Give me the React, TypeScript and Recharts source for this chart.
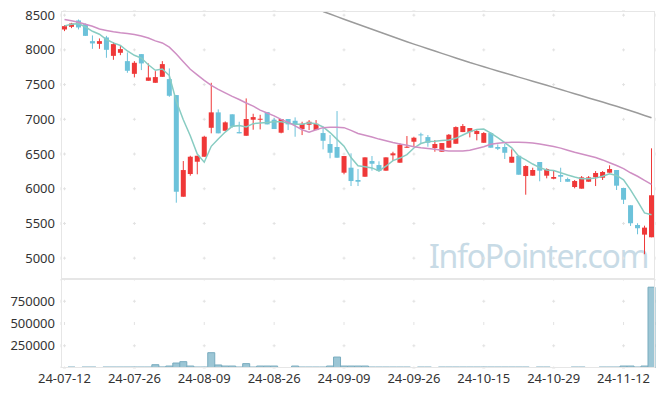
import React from 'react';
import { ComposedChart, Bar, Line, XAxis, YAxis, CartesianGrid } from 'recharts';

const dates = [
  '24-07-12', '24-07-15', '24-07-16', '24-07-17', '24-07-18', '24-07-19',
  '24-07-22', '24-07-23', '24-07-24', '24-07-25', '24-07-26',
  '24-07-29', '24-07-30', '24-07-31', '24-08-01', '24-08-02',
  '24-08-05', '24-08-06', '24-08-07', '24-08-08', '24-08-09',
  '24-08-12', '24-08-13', '24-08-14', '24-08-16',
  '24-08-19', '24-08-20', '24-08-21', '24-08-22', '24-08-23',
  '24-08-26', '24-08-27', '24-08-28', '24-08-29', '24-08-30',
  '24-09-02', '24-09-03', '24-09-04', '24-09-05', '24-09-06',
  '24-09-09', '24-09-10', '24-09-11', '24-09-12', '24-09-13',
  '24-09-19', '24-09-20',
  '24-09-23', '24-09-24', '24-09-25', '24-09-26', '24-09-27',
  '24-09-30', '24-10-02', '24-10-04',
  '24-10-07', '24-10-08', '24-10-10', '24-10-11',
  '24-10-14', '24-10-15', '24-10-16', '24-10-17', '24-10-18',
  '24-10-21', '24-10-22', '24-10-23', '24-10-24', '24-10-25',
  '24-10-28', '24-10-29', '24-10-30', '24-10-31', '24-11-01',
  '24-11-04', '24-11-05', '24-11-06', '24-11-07', '24-11-08',
  '24-11-11', '24-11-12', '24-11-13', '24-11-14', '24-11-15',
  '24-11-18',
];

const tickDates = ['24-07-12', '24-07-26', '24-08-09', '24-08-26', '24-09-09', '24-09-26', '24-10-15', '24-10-29', '24-11-12'];
const priceTicks = [5000, 5500, 6000, 6500, 7000, 7500, 8000, 8500];
const volumeTicks = [250000, 500000, 750000];

const opens = [
  8294, 8332, 8424, 8370, 8126, 8087, 8179, 7914, 7958, 7838,
  7655, 7939, 7555, 7526, 7612, 7579, 7349, 5885, 6212, 6389,
  6461, 6878, 7100, 6835, 7072, 6816, 6763, 6994, 6994, 7104,
  6994, 6807, 7004, 6979, 6860, 6922, 6845, 6802, 6644, 6601,
  6231, 6303, 6126, 6173, 6399, 6341, 6260, 6481, 6375, 6591,
  6677, 6783, 6744, 6586, 6533, 6591, 6648, 6816, 6816, 6788,
  6662, 6802, 6601, 6601, 6375, 6475, 6183, 6188, 6385, 6188,
  6144, 6198, 6140, 6025, 6001, 6101, 6164, 6159, 6231, 6270,
  6011, 5762, 5478, 5339, 5301,
];
const highs = [
  8356, 8389, 8438, 8380, 8208, 8165, 8202, 8110, 8068, 7963,
  7838, 7939, 7805, 7694, 7838, 7733, 7349, 6399, 6475, 6475,
  6763, 7526, 7143, 6970, 7072, 6965, 7301, 7080, 7065, 7104,
  7022, 7004, 7004, 7028, 6965, 6989, 6989, 6893, 6773, 7119,
  6471, 6510, 6284, 6452, 6471, 6395, 6452, 6533, 6654, 6759,
  6749, 6807, 6773, 6701, 6658, 6788, 6898, 6932, 6874, 6845,
  6816, 6816, 6639, 6644, 6567, 6475, 6337, 6303, 6385, 6294,
  6270, 6303, 6160, 6126, 6183, 6183, 6255, 6255, 6337, 6270,
  6011, 5762, 5503, 5468, 6582,
];
const lows = [
  8270, 8313, 8294, 8202, 8015, 8015, 7886, 7857, 7924, 7670,
  7604, 7709, 7555, 7526, 7612, 7324, 5799, 5885, 6188, 6208,
  6461, 6798, 6798, 6835, 6878, 6798, 6763, 6850, 6855, 6927,
  6860, 6798, 6845, 6749, 6773, 6845, 6845, 6567, 6438, 6447,
  6208, 6039, 6039, 6173, 6260, 6245, 6260, 6399, 6375, 6591,
  6605, 6648, 6605, 6533, 6533, 6591, 6648, 6816, 6740, 6697,
  6662, 6591, 6557, 6428, 6375, 6202, 5914, 6188, 6107, 6150,
  6136, 6097, 6101, 6006, 6001, 6101, 6039, 6126, 6231, 5982,
  5780, 5464, 5344, 5057, 5301,
];
const closes = [
  8342, 8380, 8323, 8202, 8093, 8126, 8001, 8083, 8011, 7699,
  7814, 7805, 7603, 7608, 7795, 7339, 5957, 6269, 6461, 6475,
  6749, 7100, 6798, 6956, 6893, 6798, 7004, 7032, 7008, 6927,
  6860, 7004, 6927, 6922, 6936, 6965, 6936, 6691, 6518, 6447,
  6471, 6111, 6101, 6452, 6360, 6255, 6452, 6510, 6634, 6605,
  6735, 6769, 6662, 6644, 6658, 6778, 6888, 6903, 6874, 6831,
  6802, 6591, 6576, 6518, 6461, 6202, 6327, 6270, 6260, 6284,
  6169, 6173, 6101, 6111, 6164, 6164, 6227, 6241, 6284, 6044,
  5842, 5503, 5431, 5440, 5906,
];
const volumes = [
  0, 11000, 0, 11000, 11000, 0, 11000, 11000, 11000, 11000,
  11000, 11000, 11000, 37000, 12000, 22000, 56000, 71000, 22000, 11000,
  11000, 172000, 34000, 22000, 22000, 11000, 49000, 11000, 22000, 22000,
  22000, 0, 0, 22000, 11000, 11000, 11000, 11000, 22000, 123000,
  22000, 22000, 22000, 22000, 11000, 11000, 11000, 11000, 11000, 11000,
  0, 11000, 11000, 0, 11000, 11000, 11000, 11000, 11000, 11000,
  11000, 11000, 11000, 11000, 11000, 11000, 11000, 0, 11000, 11000,
  0, 0, 0, 11000, 11000, 0, 0, 11000, 11000, 11000,
  22000, 22000, 11000, 22000, 908000,
];
const ma5 = [
  8346, 8370, 8378, 8330, 8268, 8225, 8149, 8101, 8063, 7984,
  7922, 7882, 7786, 7706, 7725, 7630, 7260, 6994, 6764, 6500,
  6382, 6611, 6717, 6816, 6899, 6909, 6890, 6937, 6947, 6954,
  6966, 6966, 6945, 6928, 6930, 6951, 6937, 6890, 6809, 6711,
  6613, 6449, 6331, 6317, 6300, 6257, 6324, 6406, 6442, 6491,
  6587, 6651, 6681, 6683, 6694, 6702, 6726, 6774, 6820, 6855,
  6860, 6800, 6735, 6664, 6590, 6470, 6417, 6356, 6304, 6269,
  6262, 6231, 6197, 6168, 6144, 6143, 6153, 6181, 6216, 6192,
  6128, 5983, 5821, 5652, 5624,
];
const ma20 = [
  8438, 8420, 8399, 8370, 8340, 8300, 8280, 8262, 8248, 8237,
  8222, 8200, 8170, 8130, 8100, 8040, 7940, 7830, 7720, 7640,
  7560, 7490, 7430, 7380, 7330, 7285, 7235, 7190, 7133, 7090,
  7050, 7000, 6955, 6905, 6850, 6815, 6850, 6880, 6884, 6884,
  6880, 6840, 6795, 6770, 6745, 6715, 6690, 6665, 6645, 6625,
  6605, 6590, 6580, 6568, 6556, 6545, 6543, 6545, 6555, 6580,
  6605, 6640, 6656, 6665, 6668, 6668, 6665, 6658, 6645, 6625,
  6607, 6585, 6555, 6525, 6500, 6475, 6450, 6415, 6375, 6335,
  6290, 6230, 6180, 6120, 6064,
];
const ma120 = [
  null, null, null, null, null, null, null, null, null, null,
  null, null, null, null, null, null, null, null, null, null,
  null, null, null, null, null, null, null, null, null, null,
  null, null, null, null, null, null, null, 8553, 8516, 8479,
  8442, 8406, 8370, 8334, 8298, 8262, 8226, 8190, 8154, 8118,
  8083, 8050, 8016, 7983, 7950, 7917, 7884, 7851, 7818, 7788,
  7756, 7726, 7697, 7667, 7638, 7608, 7579, 7549, 7519, 7490,
  7460, 7430, 7399, 7369, 7339, 7308, 7278, 7248, 7218, 7188,
  7157, 7124, 7090, 7056, 7022,
];

const rows = dates.map((date, i) => ({
  date,
  open: opens[i],
  high: highs[i],
  low: lows[i],
  close: closes[i],
  range: [lows[i], highs[i]],
  volume: volumes[i],
  ma5: ma5[i],
  ma20: ma20[i],
  ma120: ma120[i],
}));

const W = 665;
const LEFT = 61;
const RIGHT_M = 10;
const PLOT_W = W - LEFT - RIGHT_M;
const PRICE_TOP = 11;
const PRICE_CHART_H = 279;
const PRICE_PLOT_H = PRICE_CHART_H - PRICE_TOP;
const VOL_CHART_H = 118;
const VOL_AXIS_H = 29;
const VOL_PLOT_H = VOL_CHART_H - VOL_AXIS_H;
const PRICE_DOMAIN: [number, number] = [4700, 8560];
const VOL_DOMAIN: [number, number] = [0, 1000000];

const RED = '#ef3838';
const BLUE = '#6cc2da';
const GRID = '#e2e2e2';
const BORDER = '#e6e6e6';
const FONT = "'Noto Sans', 'DejaVu Sans', sans-serif";

const bandW = PLOT_W / dates.length;
const xPeriod = bandW * 10;
const ARM = 3;

const hLine = (p: any) => (
  <line
    key={p.key}
    x1={p.x1}
    y1={p.y1}
    x2={p.x2}
    y2={p.y2}
    stroke={GRID}
    strokeWidth={1}
    strokeDasharray={`${ARM} ${xPeriod - ARM}`}
    strokeDashoffset={-(bandW / 2 - ARM / 2)}
  />
);

const makeVLine = (period: number, firstOffset: number) => (p: any) => (
  <line
    key={p.key}
    x1={p.x1}
    y1={Math.min(p.y1, p.y2)}
    x2={p.x2}
    y2={Math.max(p.y1, p.y2)}
    stroke={GRID}
    strokeWidth={1}
    strokeDasharray={`${ARM} ${period - ARM}`}
    strokeDashoffset={-(firstOffset - ARM / 2)}
  />
);

const pricePx = PRICE_PLOT_H / (PRICE_DOMAIN[1] - PRICE_DOMAIN[0]);
const priceVLine = makeVLine(500 * pricePx, (PRICE_DOMAIN[1] - 8500) * pricePx);
const volPx = VOL_PLOT_H / (VOL_DOMAIN[1] - VOL_DOMAIN[0]);
const volVLine = makeVLine(250000 * volPx, 250000 * volPx);

const Candle = (props: any) => {
  const { x, y, width, height, payload } = props;
  if (!payload) return null;
  const { open, close, high, low } = payload;
  const top = Math.min(y, y + height);
  const h = Math.abs(height);
  const ratio = high === low ? 0 : h / (high - low);
  const color = close >= open ? RED : BLUE;
  const bodyTop = top + (high - Math.max(open, close)) * ratio;
  const bodyH = Math.max(1, Math.abs(open - close) * ratio);
  const cx = x + width / 2;
  return (
    <g>
      <line x1={cx} x2={cx} y1={top} y2={top + h} stroke={color} strokeWidth={1} />
      <rect x={x} y={bodyTop} width={width} height={bodyH} fill={color} />
    </g>
  );
};

const tickStyle = { fill: '#333', fontSize: 13, fontFamily: FONT };

export default function App() {
  return (
    <div style={{ position: 'absolute', left: 0, top: 0, width: W, height: 397, background: '#fff', fontFamily: FONT }}>
      <svg style={{ position: 'absolute', left: 0, top: 0 }} width={W} height={397}>
        <text x={429} y={268} fontSize={32} letterSpacing={-1.3} fill="#c8dbe6" fontFamily={FONT}>
          InfoPointer.com
        </text>
      </svg>
      <div style={{ position: 'absolute', left: 0, top: 0 }}>
        <ComposedChart
          width={W}
          height={PRICE_CHART_H}
          data={rows}
          margin={{ top: PRICE_TOP, right: RIGHT_M, bottom: 0, left: 0 }}
          barGap={0}
        >
          <CartesianGrid horizontal={hLine} vertical={priceVLine} />
          <XAxis dataKey="date" hide ticks={tickDates} interval={0} />
          <YAxis
            width={LEFT}
            domain={PRICE_DOMAIN}
            ticks={priceTicks}
            allowDataOverflow
            axisLine={false}
            tickLine={false}
            tickSize={0}
            tickMargin={6}
            tick={tickStyle}
          />
          <Bar dataKey="range" barSize={5} shape={Candle} isAnimationActive={false} />
          <Line dataKey="ma5" stroke="#88ccc2" strokeWidth={1.5} dot={false} activeDot={false} isAnimationActive={false} />
          <Line dataKey="ma20" stroke="#cf8fc4" strokeWidth={1.5} dot={false} activeDot={false} isAnimationActive={false} />
          <Line dataKey="ma120" stroke="#9b9b9b" strokeWidth={1.5} dot={false} activeDot={false} isAnimationActive={false} />
        </ComposedChart>
      </div>
      <div style={{ position: 'absolute', left: 0, top: PRICE_CHART_H }}>
        <ComposedChart
          width={W}
          height={VOL_CHART_H}
          data={rows}
          margin={{ top: 0, right: RIGHT_M, bottom: 0, left: 0 }}
          barCategoryGap={0}
          barGap={0}
        >
          <CartesianGrid horizontal={hLine} vertical={volVLine} />
          <XAxis
            dataKey="date"
            ticks={tickDates}
            interval={0}
            height={VOL_AXIS_H}
            axisLine={false}
            tickLine={false}
            tickSize={0}
            tickMargin={6}
            tick={tickStyle}
          />
          <YAxis
            width={LEFT}
            domain={VOL_DOMAIN}
            ticks={volumeTicks}
            allowDataOverflow
            axisLine={false}
            tickLine={false}
            tickSize={0}
            tickMargin={6}
            tick={tickStyle}
          />
          <Bar dataKey="volume" fill="#9cc6d5" stroke="#78abbe" strokeWidth={1} isAnimationActive={false} />
        </ComposedChart>
      </div>
      <div
        style={{
          position: 'absolute',
          left: LEFT,
          top: PRICE_TOP,
          width: PLOT_W,
          height: PRICE_PLOT_H,
          border: `1px solid ${BORDER}`,
          boxSizing: 'border-box',
          pointerEvents: 'none',
        }}
      />
      <div
        style={{
          position: 'absolute',
          left: LEFT,
          top: PRICE_CHART_H,
          width: PLOT_W,
          height: VOL_PLOT_H,
          border: `1px solid ${BORDER}`,
          boxSizing: 'border-box',
          pointerEvents: 'none',
        }}
      />
    </div>
  );
}
